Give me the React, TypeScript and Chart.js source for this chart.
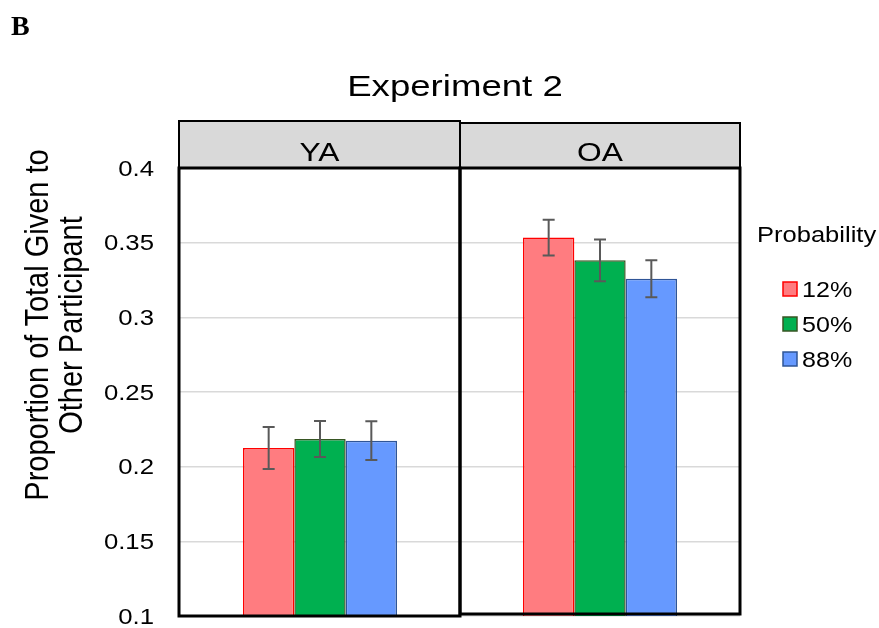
import { useEffect, useRef } from "react";
import { Chart, registerables } from "chart.js";

Chart.register(...registerables);

const panelLetter = "B";
const chartTitle = "Experiment 2";
const yTitleLines = ["Proportion of Total Given to", "Other Participant"];
const legendTitle = "Probability";

const groups = ["YA", "OA"];
const seriesLabels = ["12%", "50%", "88%"];
const means12 = [0.2125, 0.3534];
const means50 = [0.2185, 0.3382];
const means88 = [0.2174, 0.3259];
const err12 = [0.014, 0.012];
const err50 = [0.012, 0.014];
const err88 = [0.013, 0.0124];
const yMin = 0.1;
const yMax = 0.4;
const yStep = 0.05;

const fills = ["#ff7c80", "#00b050", "#6699ff"];
const borders = ["#ff0000", "#375623", "#2f5597"];

const SANS = '"Liberation Sans", Arial, sans-serif';
const SERIF = '"Liberation Serif", "Times New Roman", serif';

function stretchedText(
  ctx: CanvasRenderingContext2D,
  text: string,
  x: number,
  y: number,
  size: number,
  sx: number,
  align: CanvasTextAlign,
  font = SANS,
  weight = "normal"
) {
  ctx.save();
  ctx.translate(x, y);
  ctx.scale(sx, 1);
  ctx.font = `${weight} ${size}px ${font}`;
  ctx.textAlign = align;
  ctx.textBaseline = "alphabetic";
  ctx.fillStyle = "#000";
  ctx.fillText(text, 0, 0);
  ctx.restore();
}

const errorBarPlugin = {
  id: "errorBars",
  afterDatasetsDraw(chart: any) {
    const ctx = chart.ctx as CanvasRenderingContext2D;
    const y = chart.scales.y;
    ctx.save();
    ctx.strokeStyle = "#595959";
    ctx.lineWidth = 2;
    chart.data.datasets.forEach((ds: any, i: number) => {
      const meta = chart.getDatasetMeta(i);
      meta.data.forEach((bar: any, j: number) => {
        const m = ds.data[j];
        const e = ds.errors[j];
        const top = y.getPixelForValue(m + e);
        const bot = y.getPixelForValue(m - e);
        const cx = bar.x;
        ctx.beginPath();
        ctx.moveTo(cx, top);
        ctx.lineTo(cx, bot);
        ctx.moveTo(cx - 6, top);
        ctx.lineTo(cx + 6, top);
        ctx.moveTo(cx - 6, bot);
        ctx.lineTo(cx + 6, bot);
        ctx.stroke();
      });
    });
    ctx.restore();
  },
};

const decorPlugin = {
  id: "decor",
  afterDraw(chart: any) {
    const ctx = chart.ctx as CanvasRenderingContext2D;
    const area = chart.chartArea;
    const xs = chart.scales.x;
    const ys = chart.scales.y;
    const mid = (xs.getPixelForValue(0) + xs.getPixelForValue(1)) / 2;
    const bounds = [
      [area.left - 1, mid],
      [mid, area.right],
    ];
    const headerTops = [area.top - 47, area.top - 45];
    const panelBottoms = [area.bottom, area.bottom - 2];

    // header strips
    ctx.save();
    bounds.forEach(([l, r], i) => {
      const top = headerTops[i];
      ctx.fillStyle = "#d9d9d9";
      ctx.fillRect(l, top, r - l, area.top - top);
      ctx.strokeStyle = "#000";
      ctx.lineWidth = 2;
      ctx.strokeRect(l, top, r - l, area.top - top);
      stretchedText(ctx, groups[i], (l + r) / 2, area.top - 7, 26, 1.22, "center");
    });

    // panel borders
    ctx.strokeStyle = "#000";
    ctx.lineWidth = 3;
    bounds.forEach(([l, r], i) => {
      ctx.strokeRect(l, area.top, r - l, panelBottoms[i] - area.top);
    });
    ctx.restore();

    // y tick labels from the scale
    ys.ticks.forEach((t: any) => {
      const py = ys.getPixelForValue(t.value);
      const label = String(Number(t.value.toFixed(2)));
      stretchedText(ctx, label, 154, py + 7.8, 22, 1.17, "right");
    });

    // y title
    const cy = (area.top + area.bottom) / 2 - 67;
    const baselines = [48, 82];
    yTitleLines.forEach((line, i) => {
      ctx.save();
      ctx.translate(baselines[i], cy);
      ctx.scale(1.15, 1);
      ctx.rotate(-Math.PI / 2);
      ctx.font = `29px ${SANS}`;
      ctx.textAlign = "center";
      ctx.textBaseline = "alphabetic";
      ctx.fillStyle = "#000";
      ctx.fillText(line, 0, 0);
      ctx.restore();
    });

    // chart title
    stretchedText(ctx, chartTitle, 455, 96, 30, 1.22, "center");

    // panel letter
    stretchedText(ctx, panelLetter, 11, 35, 28, 1.0, "left", SERIF, "bold");

    // legend
    stretchedText(ctx, legendTitle, 757, 242, 22, 1.16, "left");
    chart.data.datasets.forEach((ds: any, i: number) => {
      const cyItem = 289 + i * 35;
      ctx.save();
      ctx.fillStyle = ds.backgroundColor;
      ctx.strokeStyle = ds.borderColor;
      ctx.lineWidth = 1.5;
      ctx.fillRect(783, cyItem - 7, 14, 14);
      ctx.strokeRect(783, cyItem - 7, 14, 14);
      ctx.restore();
      stretchedText(ctx, ds.label, 802, cyItem + 8, 22, 1.14, "left");
    });
  },
};

export default function App() {
  const ref = useRef<HTMLCanvasElement | null>(null);

  useEffect(() => {
    if (!ref.current) return;
    const means = [means12, means50, means88];
    const errs = [err12, err50, err88];
    const chart = new Chart(ref.current, {
      type: "bar",
      data: {
        labels: groups,
        datasets: seriesLabels.map((label, i) => ({
          label,
          data: means[i],
          errors: errs[i],
          backgroundColor: fills[i],
          borderColor: borders[i],
          borderWidth: 1.5,
          categoryPercentage: 0.55,
          barPercentage: 1.0,
        })) as any,
      },
      options: {
        animation: false,
        responsive: false,
        devicePixelRatio: 1,
        layout: { padding: { top: 168, right: 139, bottom: 12, left: 0 } },
        plugins: {
          legend: { display: false },
          title: { display: false },
          tooltip: { enabled: false },
        },
        scales: {
          x: { display: false },
          y: {
            min: yMin,
            max: yMax,
            ticks: { stepSize: yStep, display: false },
            grid: { color: "#d9d9d9", lineWidth: 1.5, drawTicks: false },
            border: { display: false },
            afterFit: (s: any) => {
              s.width = 180;
            },
          },
        },
      },
      plugins: [errorBarPlugin, decorPlugin],
    });
    return () => chart.destroy();
  }, []);

  return (
    <div style={{ position: "absolute", left: 0, top: 0, width: 879, height: 628, background: "#fff" }}>
      <canvas ref={ref} width={879} height={628} style={{ display: "block" }} />
    </div>
  );
}
